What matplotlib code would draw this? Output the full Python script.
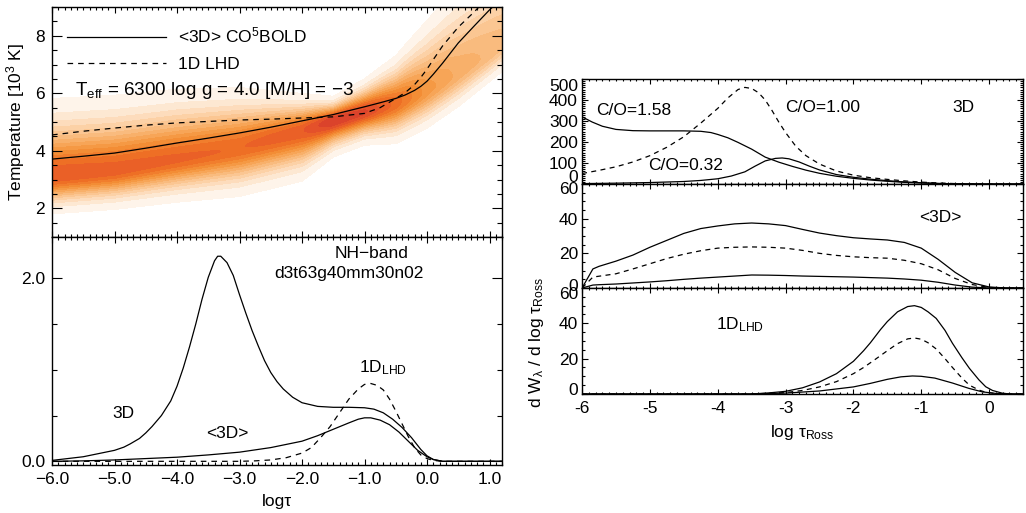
import numpy as np
import matplotlib
matplotlib.use("Agg")
import matplotlib.pyplot as plt
from matplotlib.colors import LinearSegmentedColormap
from matplotlib.ticker import MultipleLocator, FixedLocator, FuncFormatter, NullFormatter
from matplotlib.transforms import ScaledTranslation

plt.rcParams['font.family'] = ['Liberation Sans', 'DejaVu Sans']
plt.rcParams['mathtext.fontset'] = 'custom'
plt.rcParams['mathtext.rm'] = 'Liberation Sans'
plt.rcParams['mathtext.it'] = 'Liberation Sans'
plt.rcParams['mathtext.bf'] = 'Liberation Sans:bold'
plt.rcParams['axes.linewidth'] = 1.0

# ---------------- temperature structure (top left) ----------------
tau_t3d = [-6.0, -5.5, -5.0, -4.5, -4.0, -3.5, -3.0, -2.5, -2.0, -1.5, -1.0,
           -0.75, -0.5, -0.35, -0.2, -0.1, 0.0, 0.1, 0.25, 0.5, 0.75, 1.0, 1.05]
temp_3d = [3.71, 3.81, 3.92, 4.09, 4.27, 4.44, 4.62, 4.82, 5.04, 5.26, 5.53,
           5.67, 5.82, 5.94, 6.10, 6.24, 6.42, 6.66, 7.05, 7.75, 8.33, 8.9, 9.0]
tau_t1d = [-6.0, -5.5, -5.0, -4.5, -4.0, -3.5, -3.0, -2.5, -2.0, -1.5, -1.0,
           -0.75, -0.5, -0.35, -0.2, -0.1, 0.0, 0.1, 0.25, 0.5, 0.75, 0.83]
temp_1d = [4.55, 4.68, 4.79, 4.89, 4.97, 5.02, 5.07, 5.10, 5.14, 5.18, 5.30,
           5.50, 5.82, 6.02, 6.30, 6.55, 6.84, 7.17, 7.65, 8.30, 8.82, 9.0]

# 3D temperature distribution: mode, lower/upper spread and peak strength per depth
dens_tau = [-6.0, -5.0, -4.0, -3.0, -2.0, -1.5, -1.0, -0.5, 0.0, 0.5, 1.0, 1.2]
dens_mode = [3.1, 3.3, 3.7, 4.1, 4.7, 5.05, 5.35, 5.65, 6.1, 6.7, 7.4, 7.7]
dens_lo = [0.50, 0.52, 0.58, 0.66, 0.68, 0.48, 0.44, 0.55, 0.54, 0.50, 0.44, 0.42]
dens_hi = [1.05, 1.02, 0.95, 0.82, 0.50, 0.32, 0.44, 0.65, 1.00, 1.30, 1.40, 1.40]
dens_peak = [0.86, 0.84, 0.82, 0.80, 0.86, 1.00, 0.95, 0.78, 0.58, 0.46, 0.40, 0.38]

# ---------------- NH-band contribution functions (bottom left) ----------------
tau_3d = [-6.0, -5.5, -5.0, -4.85, -4.75, -4.6, -4.5, -4.4, -4.25, -4.1, -4.0,
          -3.9, -3.8, -3.7, -3.6, -3.5, -3.4, -3.35, -3.3, -3.2, -3.1, -3.0,
          -2.9, -2.8, -2.7, -2.6, -2.5, -2.4, -2.3, -2.15, -2.0, -1.75, -1.5,
          -1.25, -1.0, -0.85, -0.7, -0.55, -0.4, -0.25, -0.1, 0.0, 0.1, 0.25,
          1.2]
cf_3d = [0.01, 0.05, 0.12, 0.155, 0.19, 0.25, 0.31, 0.38, 0.50, 0.66, 0.82,
         1.02, 1.25, 1.50, 1.77, 2.01, 2.19, 2.24, 2.24, 2.17, 2.03, 1.82,
         1.62, 1.43, 1.26, 1.10, 0.97, 0.87, 0.79, 0.70, 0.64, 0.60, 0.59,
         0.59, 0.585, 0.57, 0.53, 0.46, 0.37, 0.26, 0.13, 0.06, 0.02, 0.0,
         0.0]
tau_av = [-6.0, -5.5, -5.0, -4.5, -4.0, -3.5, -3.0, -2.5, -2.0, -1.75, -1.5,
          -1.25, -1.1, -1.0, -0.9, -0.75, -0.6, -0.45, -0.3, -0.15, 0.0, 0.1,
          0.25, 1.2]
cf_av = [0.0, 0.005, 0.015, 0.03, 0.045, 0.07, 0.10, 0.15, 0.22, 0.28, 0.35,
         0.42, 0.46, 0.475, 0.475, 0.45, 0.40, 0.32, 0.22, 0.12, 0.05, 0.02,
         0.0, 0.0]
tau_1d = [-6.0, -3.0, -2.75, -2.5, -2.25, -2.0, -1.85, -1.7, -1.55, -1.4,
          -1.25, -1.1, -1.0, -0.9, -0.8, -0.7, -0.6, -0.5, -0.4, -0.3, -0.2,
          -0.1, 0.0, 0.1, 0.25, 1.2]
cf_1d = [0.0, 0.0, 0.005, 0.015, 0.04, 0.09, 0.15, 0.26, 0.38, 0.53,
         0.68, 0.79, 0.84, 0.85, 0.83, 0.78, 0.68, 0.55, 0.41, 0.27, 0.15,
         0.07, 0.03, 0.01, 0.0, 0.0]

# ---------------- dW/dlog tau for three C/O ratios (right) ----------------
tau_r3d_a = [-6.0, -5.85, -5.7, -5.5, -5.25, -5.0, -4.75, -4.5, -4.25, -4.1,
             -4.0, -3.85, -3.7, -3.5, -3.3, -3.1, -2.9, -2.7, -2.5, -2.25,
             -2.0, -1.75, -1.5, -1.25, -1.0, -0.75, -0.5, 0.0, 0.5]
w3d_co158 = [320, 295, 275, 260, 254, 253, 253, 253, 251, 245,
             236, 220, 198, 166, 128, 104, 84, 66, 51, 37,
             27, 19, 13, 8, 5, 2, 1, 0, 0]
tau_r3d_b = [-6.0, -5.75, -5.5, -5.25, -5.0, -4.75, -4.5, -4.25, -4.0, -3.85,
             -3.7, -3.6, -3.5, -3.4, -3.3, -3.2, -3.1, -3.0, -2.85, -2.7,
             -2.5, -2.25, -2.0, -1.75, -1.5, -1.25, -1.0, -0.75, -0.5, -0.25,
             0.0, 0.5]
w3d_co100 = [50, 65, 82, 105, 135, 175, 225, 290, 360, 410,
             450, 460, 455, 435, 400, 350, 295, 245, 180, 135,
             95, 62, 42, 30, 22, 15, 9, 5, 2, 0.5,
             0, 0]
tau_r3d_c = [-6.0, -5.5, -5.0, -4.5, -4.25, -4.0, -3.8, -3.6, -3.45, -3.3,
             -3.15, -3.05, -2.95, -2.8, -2.65, -2.5, -2.25, -2.0, -1.75, -1.5,
             -1.25, -1.0, -0.75, -0.5, 0.0, 0.5]
w3d_co032 = [2, 4, 7, 12, 17, 25, 38, 58, 85, 110,
             122, 124, 120, 105, 85, 67, 45, 32, 23, 16,
             10, 6, 3, 1, 0, 0]

tau_rav = [-6.0, -5.84, -5.75, -5.5, -5.25, -5.0, -4.75, -4.5, -4.25, -4.0,
           -3.75, -3.5, -3.25, -3.0, -2.75, -2.5, -2.25, -2.0, -1.75, -1.5,
           -1.25, -1.0, -0.75, -0.5, -0.25, 0.0, 0.25, 0.5]
wav_co158 = [0.0, 11.0, 12.5, 15.5, 19.0, 23.5, 27.5, 31.5, 34.3, 35.8,
             37.0, 37.5, 37.0, 36.0, 33.8, 31.7, 30.2, 29.0, 28.3, 27.7,
             26.3, 23.0, 16.5, 9.0, 3.0, 0.6, 0.0, 0.0]
wav_co100 = [0.0, 6.3, 6.8, 8.2, 11.0, 14.0, 17.0, 19.5, 21.5, 23.0,
             23.5, 23.7, 23.5, 23.0, 21.7, 20.0, 18.8, 18.0, 17.5, 17.2,
             16.0, 14.0, 10.5, 5.5, 2.0, 0.3, 0.0, 0.0]
wav_co032 = [0.0, 1.7, 1.9, 2.3, 2.9, 3.5, 4.2, 5.0, 5.7, 6.3,
             6.9, 7.5, 7.4, 7.2, 6.9, 6.7, 6.5, 6.3, 6.0, 5.7,
             5.2, 4.5, 3.3, 1.7, 0.5, 0.0, 0.0, 0.0]

tau_r1d_a = [-6.0, -3.5, -3.25, -3.0, -2.75, -2.5, -2.25, -2.0, -1.85, -1.75,
             -1.6, -1.5, -1.35, -1.2, -1.1, -1.0, -0.9, -0.78, -0.65, -0.54,
             -0.4, -0.29, -0.15, -0.05, 0.05, 0.19, 0.3, 0.5]
w1d_co158 = [0.0, 0.0, 0.6, 1.5, 3.5, 6.8, 11.5, 18.5, 24.5, 29.0,
             36.5, 41.0, 46.5, 49.5, 50.0, 49.0, 46.5, 42.8, 36.0, 28.7,
             20.5, 14.5, 8.0, 4.1, 2.0, 0.5, 0.0, 0.0]
tau_r1d_b = [-6.0, -3.5, -3.0, -2.75, -2.5, -2.25, -2.0, -1.85, -1.7, -1.5,
             -1.35, -1.2, -1.1, -1.0, -0.9, -0.78, -0.65, -0.54, -0.4, -0.29,
             -0.15, -0.05, 0.1, 0.25, 0.5]
w1d_co100 = [0.0, 0.0, 0.8, 2.0, 4.0, 7.0, 11.5, 15.0, 19.0, 24.5,
             28.5, 31.2, 31.7, 31.0, 29.0, 25.5, 20.0, 15.0, 9.0, 5.0,
             2.2, 1.0, 0.2, 0.0, 0.0]
tau_r1d_c = [-6.0, -3.5, -3.0, -2.5, -2.0, -1.75, -1.5, -1.3, -1.13, -1.0,
             -0.8, -0.54, -0.3, -0.1, 0.1, 0.3, 0.5]
w1d_co032 = [0.0, 0.0, 0.5, 1.7, 4.0, 6.0, 8.3, 9.7, 10.2, 10.0,
             9.0, 6.2, 3.2, 1.2, 0.3, 0.0, 0.0]

LW = 0.9
DASH = (0, (4.5, 4.0))
FS = 12.5

fig = plt.figure(figsize=(10.26, 5.13), dpi=100)

ax_t = fig.add_axes([0.0507, 0.538, 0.4386, 0.4483])
ax_b = fig.add_axes([0.0507, 0.0936, 0.4386, 0.4444])
r1 = fig.add_axes([0.5673, 0.6413, 0.4298, 0.2047])
r2 = fig.add_axes([0.5673, 0.4386, 0.4298, 0.2027])
r3 = fig.add_axes([0.5673, 0.2320, 0.4298, 0.2066])

# ---- temperature distribution image ----
tg = np.linspace(-6.0, 1.2, 360)
Tg = np.linspace(1.0, 9.0, 320)
mode = np.interp(tg, dens_tau, dens_mode)[None, :]
slo = np.interp(tg, dens_tau, dens_lo)[None, :]
shi = np.interp(tg, dens_tau, dens_hi)[None, :]
pk = np.interp(tg, dens_tau, dens_peak)[None, :]
TTg = Tg[:, None]
sig = np.where(TTg < mode, slo, shi)
dens = pk * np.exp(-0.5 * ((TTg - mode) / sig) ** 2)

cmap = LinearSegmentedColormap.from_list(
    'heat', [(0.0, '#ffffff'), (0.08, '#fef0e2'), (0.25, '#fcd2a8'),
             (0.45, '#f8b06a'), (0.62, '#f49238'), (0.78, '#ee6e25'),
             (0.9, '#e5522a'), (1.0, '#d63c2c')])
levels = np.linspace(0.03, 1.0, 16)
ax_t.contourf(tg, Tg, dens, levels=levels, cmap=cmap, vmin=0.0, vmax=1.0,
              extend='max', zorder=0)

ax_t.plot(tau_t3d, temp_3d, color='black', lw=LW, label='<3D> CO$^{\\mathrm{5}}$BOLD')
ax_t.plot(tau_t1d, temp_1d, color='black', lw=LW, ls=DASH, label='1D LHD')
ax_t.legend(loc='upper left', bbox_to_anchor=(0.033, 0.918), frameon=False,
            fontsize=FS, handlelength=5.7, handletextpad=0.72,
            labelspacing=0.62, borderpad=0.0, borderaxespad=0.0)
ax_t.text(0.05, 0.639, 'T$_{\\mathrm{eff}}$ = 6300 log g = 4.0 [M/H] = \u22123',
          transform=ax_t.transAxes, fontsize=13.6, va='center', ha='left')
ax_t.set_xlim(-6.0, 1.2)
ax_t.set_ylim(1.0, 9.0)
ax_t.set_ylabel('Temperature [10$^{\\mathrm{3}}$ K]', fontsize=FS, labelpad=6)
ax_t.yaxis.set_major_locator(FixedLocator([2, 4, 6, 8]))
ax_t.yaxis.set_minor_locator(MultipleLocator(0.5))
ax_t.xaxis.set_major_locator(MultipleLocator(1.0))
ax_t.xaxis.set_minor_locator(MultipleLocator(0.1))
ax_t.xaxis.set_major_formatter(NullFormatter())

# ---- contribution functions ----
ax_b.plot(tau_3d, cf_3d, color='black', lw=LW)
ax_b.plot(tau_av, cf_av, color='black', lw=LW)
ax_b.plot(tau_1d, cf_1d, color='black', lw=LW, ls=DASH)
ax_b.set_xlim(-6.0, 1.2)
ax_b.set_ylim(-0.04, 2.45)
ax_b.yaxis.set_major_locator(FixedLocator([0.0, 2.0]))
ax_b.yaxis.set_minor_locator(MultipleLocator(0.5))
ax_b.yaxis.set_major_formatter(FuncFormatter(lambda v, p: f'{v:.1f}'))
ax_b.xaxis.set_major_locator(MultipleLocator(1.0))
ax_b.xaxis.set_minor_locator(MultipleLocator(0.1))
ax_b.xaxis.set_major_formatter(FuncFormatter(lambda v, p: f'{v:.1f}'.replace('-', '\u2212')))
ax_b.set_xlabel('log\u03c4', fontsize=FS, labelpad=5)
ax_b.text(-0.88, 2.27, 'NH\u2212band', fontsize=FS, ha='center', va='center')
ax_b.text(-1.245, 2.05, 'd3t63g40mm30n02', fontsize=FS, ha='center', va='center')
ax_b.text(-4.85, 0.52, '3D', fontsize=FS, ha='center', va='center')
ax_b.text(-3.2, 0.30, '<3D>', fontsize=FS, ha='center', va='center')
ax_b.text(-0.7, 1.02, '1D$_{\\mathrm{LHD}}$', fontsize=FS, ha='center', va='center')

for ax in (ax_t, ax_b):
    ax.tick_params(axis='both', which='both', direction='in', top=True, right=True,
                   labelsize=FS, width=0.8, colors='black')
    ax.tick_params(axis='x', which='major', length=4.0)
    ax.tick_params(axis='x', which='minor', length=2.0)
    ax.tick_params(axis='y', which='major', length=7.0, pad=5)
    ax.tick_params(axis='y', which='minor', length=3.5)
ax_b.tick_params(axis='x', which='major', pad=5)

# ---- right panels ----
DASH_R = (0, (4.0, 3.5))
r1.plot(tau_r3d_a, w3d_co158, color='black', lw=LW)
r1.plot(tau_r3d_b, w3d_co100, color='black', lw=LW, ls=DASH_R)
r1.plot(tau_r3d_c, w3d_co032, color='black', lw=LW)
r1.set_ylim(0, 500)
r1.yaxis.set_major_locator(FixedLocator([0, 100, 200, 300, 400, 500]))
r1.yaxis.set_minor_locator(MultipleLocator(10))
r1.text(-5.79, 352, 'C/O=1.58', fontsize=FS, ha='left', va='center')
r1.text(-3.01, 362, 'C/O=1.00', fontsize=FS, ha='left', va='center')
r1.text(-0.38, 362, '3D', fontsize=FS, ha='center', va='center')
r1.text(-5.03, 90, 'C/O=0.32', fontsize=FS, ha='left', va='center')

r2.plot(tau_rav, wav_co158, color='black', lw=LW)
r2.plot(tau_rav, wav_co100, color='black', lw=LW, ls=DASH_R)
r2.plot(tau_rav, wav_co032, color='black', lw=LW)
r2.set_ylim(0, 60)
r2.text(-1.03, 40.5, '<3D>', fontsize=FS, ha='left', va='center')

r3.plot(tau_r1d_a, w1d_co158, color='black', lw=LW)
r3.plot(tau_r1d_b, w1d_co100, color='black', lw=LW, ls=DASH_R)
r3.plot(tau_r1d_c, w1d_co032, color='black', lw=LW)
r3.set_ylim(0, 60)
r3.text(-4.02, 39, '1D$_{\\mathrm{LHD}}$', fontsize=FS, ha='left', va='center')

for ax in (r2, r3):
    ax.yaxis.set_major_locator(FixedLocator([0, 20, 40, 60]))
    ax.yaxis.set_minor_locator(MultipleLocator(5))

for ax in (r1, r2, r3):
    ax.set_xlim(-6.0, 0.5)
    ax.xaxis.set_major_locator(MultipleLocator(1.0))
    ax.xaxis.set_minor_locator(MultipleLocator(0.1))
    ax.tick_params(axis='both', which='both', direction='in', top=True, right=True,
                   labelsize=FS, width=0.8, colors='black')
    ax.tick_params(axis='x', which='major', length=3.5)
    ax.tick_params(axis='x', which='minor', length=1.5)
    ax.tick_params(axis='y', which='major', length=4.5, pad=3)
    ax.tick_params(axis='y', which='minor', length=2.2)
r1.xaxis.set_major_formatter(NullFormatter())
r2.xaxis.set_major_formatter(NullFormatter())
r3.xaxis.set_major_formatter(FuncFormatter(lambda v, p: f'{v:.0f}'))
r3.tick_params(axis='x', which='major', pad=5)


def shift_label(ax, index, dy_px):
    lab = ax.yaxis.get_major_ticks()[index].label1
    lab.set_transform(lab.get_transform() + ScaledTranslation(0, dy_px / 100.0, fig.dpi_scale_trans))


fig.canvas.draw()
shift_label(r1, 0, 8)
shift_label(r1, -1, -6)
shift_label(r2, 0, 3)
shift_label(r2, -1, -4)
shift_label(r3, 0, 5)
shift_label(r3, -1, -5)

fig.text(537 / 1026, 1 - 343 / 513, 'd W$_{\\lambda}$ / d log \u03c4$_{\\mathrm{Ross}}$',
         rotation=90, ha='center', va='center', fontsize=FS)
fig.text(802 / 1026, 1 - 433 / 513, 'log \u03c4$_{\\mathrm{Ross}}$',
         ha='center', va='center', fontsize=FS)

fig.savefig('out.png', dpi=100)
